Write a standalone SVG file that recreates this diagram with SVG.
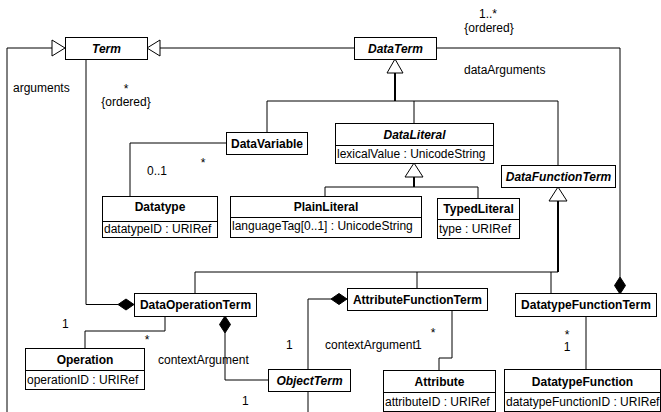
<svg xmlns="http://www.w3.org/2000/svg" width="661" height="412" viewBox="0 0 661 412">
<style>
.box{fill:#fff;stroke:#000;stroke-width:1}
.t{font-family:"Liberation Sans",Arial,sans-serif;font-size:12px;fill:#000}
.n{font-weight:bold;text-anchor:middle}
.a{font-style:italic}
.c{text-anchor:middle}
.ln{fill:none;stroke:#000;stroke-width:1}
.thk{fill:none;stroke:#000;stroke-width:2}
.gen{fill:#fff;stroke:#000;stroke-width:1}
.dia{fill:#000;stroke:#000;stroke-width:1}
</style>
<rect width="661" height="412" fill="#fff"/>
<g id="connectors">
  <!-- arguments: to Term -->
  <path class="ln" d="M7 412 V48 H52"/>
  <polygon class="gen" points="52,40 65,48 52,56"/>
  <!-- DataTerm generalizes to Term -->
  <path class="ln" d="M354 48 H160"/>
  <polygon class="gen" points="160,40 147,48 160,56"/>
  <!-- dataArguments -->
  <path class="ln" d="M436 48 H620 V277"/>
  <polygon class="dia" points="620,277 625.5,285.5 620,294 614.5,285.5"/>
  <!-- Term to DataOperationTerm -->
  <path class="ln" d="M86 59 V304.5 H118"/>
  <polygon class="dia" points="118,304.5 126,299 134,304.5 126,310"/>
  <!-- DataTerm generalization tree -->
  <polygon class="gen" points="395,59 403,73 387,73"/>
  <path class="thk" d="M395 73 V101"/>
  <path class="ln" d="M267 132 V101 H558 V165 M414 101 V123"/>
  <!-- DataVariable to Datatype -->
  <path class="ln" d="M226 143 H130 V196"/>
  <!-- DataLiteral generalization tree -->
  <polygon class="gen" points="414,163 423,177 405,177"/>
  <path class="thk" d="M414 177 V187"/>
  <path class="ln" d="M325 196 V187 H478 V198"/>
  <!-- DataFunctionTerm generalization tree -->
  <polygon class="gen" points="558,187 567,201 549,201"/>
  <path class="thk" d="M558 201 V272"/>
  <path class="ln" d="M195 293 V272 H558 M417 272 V288 M551 272 V293"/>
  <!-- DataOperationTerm to Operation -->
  <path class="ln" d="M165 316 V331 H85 V348"/>
  <!-- DataOperationTerm contextArgument -->
  <polygon class="dia" points="225,316 230.5,324.5 225,333 219.5,324.5"/>
  <path class="ln" d="M225 333 V380 H268"/>
  <!-- AttributeFunctionTerm contextArgument -->
  <polygon class="dia" points="347,299 339,304.5 331,299 339,293.5"/>
  <path class="ln" d="M331 299 H308 V369 M308 391 V412"/>
  <!-- AttributeFunctionTerm to Attribute -->
  <path class="ln" d="M452 310 V358 H439 V371"/>
  <!-- DatatypeFunctionTerm to DatatypeFunction -->
  <path class="ln" d="M586 316 V369"/>
</g>
<g id="labels">
  <text class="t" x="13" y="92">arguments</text>
  <text class="t c" x="126" y="93">*</text>
  <text class="t c" x="126" y="106">{ordered}</text>
  <text class="t c" x="488" y="18">1..*</text>
  <text class="t c" x="489" y="32">{ordered}</text>
  <text class="t" x="464" y="74">dataArguments</text>
  <text class="t" x="147" y="175">0..1</text>
  <text class="t c" x="203" y="167">*</text>
  <text class="t" x="62" y="328">1</text>
  <text class="t c" x="147" y="344">*</text>
  <text class="t" x="158" y="364">contextArgument</text>
  <text class="t" x="286" y="349">1</text>
  <text class="t" x="325" y="349">contextArgument</text>
  <text class="t" x="415" y="349">1</text>
  <text class="t c" x="433" y="337">*</text>
  <text class="t" x="242" y="405">1</text>
  <text class="t c" x="567" y="339">*</text>
  <text class="t c" x="567" y="351">1</text>
</g>
<g id="Term">
  <rect class="box" x="65.5" y="37.5" width="82" height="22"/>
  <text class="t n a" x="106.5" y="53">Term</text>
</g>
<g id="DataTerm">
  <rect class="box" x="354.5" y="37.5" width="82" height="22"/>
  <text class="t n a" x="395.5" y="53">DataTerm</text>
</g>
<g id="DataVariable">
  <rect class="box" x="226.5" y="132.5" width="81" height="22"/>
  <text class="t n" x="267" y="148">DataVariable</text>
</g>
<g id="DataLiteral">
  <rect class="box" x="335.5" y="123.5" width="158" height="40"/>
  <line class="ln" x1="335.5" y1="145.5" x2="493.5" y2="145.5"/>
  <text class="t n a" x="414.5" y="139">DataLiteral</text>
  <text class="t" x="337" y="158">lexicalValue : UnicodeString</text>
</g>
<g id="Datatype">
  <rect class="box" x="102.5" y="196.5" width="115" height="41"/>
  <line class="ln" x1="102.5" y1="221.5" x2="217.5" y2="221.5"/>
  <text class="t n" x="160" y="211">Datatype</text>
  <text class="t" x="104" y="233">datatypeID : URIRef</text>
</g>
<g id="PlainLiteral">
  <rect class="box" x="230.5" y="196.5" width="191" height="41"/>
  <line class="ln" x1="230.5" y1="217.5" x2="421.5" y2="217.5"/>
  <text class="t n" x="326" y="211">PlainLiteral</text>
  <text class="t" x="232" y="230">languageTag[0..1] : UnicodeString</text>
</g>
<g id="TypedLiteral">
  <rect class="box" x="437.5" y="198.5" width="82" height="40"/>
  <line class="ln" x1="437.5" y1="219.5" x2="519.5" y2="219.5"/>
  <text class="t n" x="478.5" y="213">TypedLiteral</text>
  <text class="t" x="439" y="233">type : URIRef</text>
</g>
<g id="DataFunctionTerm">
  <rect class="box" x="501.5" y="165.5" width="114" height="22"/>
  <text class="t n a" x="558.5" y="181">DataFunctionTerm</text>
</g>
<g id="DataOperationTerm">
  <rect class="box" x="134.5" y="293.5" width="122" height="23"/>
  <text class="t n" x="195.5" y="309">DataOperationTerm</text>
</g>
<g id="AttributeFunctionTerm">
  <rect class="box" x="347.5" y="288.5" width="140" height="22"/>
  <text class="t n" x="417.5" y="304">AttributeFunctionTerm</text>
</g>
<g id="DatatypeFunctionTerm">
  <rect class="box" x="515.5" y="293.5" width="141" height="23"/>
  <text class="t n" x="586" y="309">DatatypeFunctionTerm</text>
</g>
<g id="Operation">
  <rect class="box" x="25.5" y="348.5" width="119" height="41"/>
  <line class="ln" x1="25.5" y1="370.5" x2="144.5" y2="370.5"/>
  <text class="t n" x="85" y="364">Operation</text>
  <text class="t" x="27" y="384">operationID : URIRef</text>
</g>
<g id="ObjectTerm">
  <rect class="box" x="268.5" y="369.5" width="82" height="22"/>
  <text class="t n a" x="309.5" y="385">ObjectTerm</text>
</g>
<g id="Attribute">
  <rect class="box" x="383.5" y="370.5" width="112" height="41"/>
  <line class="ln" x1="383.5" y1="392.5" x2="495.5" y2="392.5"/>
  <text class="t n" x="439.5" y="386">Attribute</text>
  <text class="t" x="385" y="406">attributeID : URIRef</text>
</g>
<g id="DatatypeFunction">
  <rect class="box" x="504.5" y="369.5" width="156" height="42"/>
  <line class="ln" x1="504.5" y1="392.5" x2="660.5" y2="392.5"/>
  <text class="t n" x="582.5" y="386">DatatypeFunction</text>
  <text class="t" x="506" y="406">datatypeFunctionID : URIRef</text>
</g>
</svg>
